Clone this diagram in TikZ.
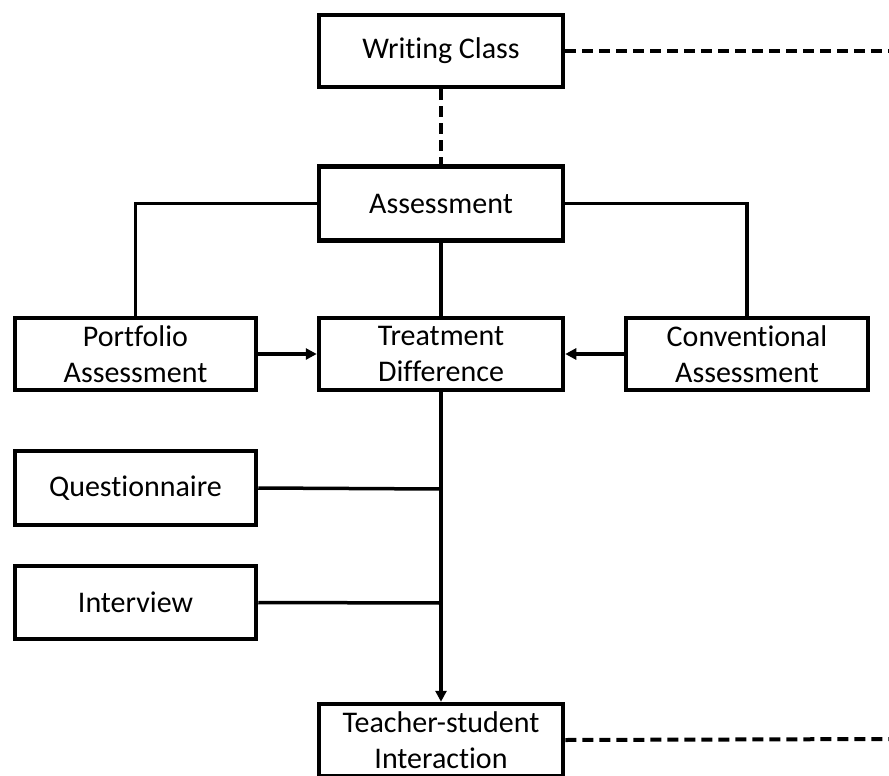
\documentclass[tikz,border=0pt]{standalone}
\usepackage{fontspec}
\setmainfont{Carlito}[Ligatures={NoCommon,NoContextual}]
\usetikzlibrary{arrows.meta}
\begin{document}
\begin{tikzpicture}[x=1pt,y=-1pt,
  box/.style={draw=black,line width=4.5pt,fill=white,minimum width=244pt,minimum height=72pt,
    inner sep=0pt,align=center,font=\fontsize{30}{36}\selectfont},
  sbox/.style={box,minimum width=241pt},
  conn/.style={line width=3.5pt,draw=black},
  dconn/.style={line width=4pt,draw=black,dash pattern=on 11pt off 6pt},
  arr/.style={conn,-{Triangle[length=11pt,width=11pt]}}]
\useasboundingbox (0,0) rectangle (889,776);
\clip (0,0) rectangle (889,776);
\coordinate (wcend) at (889,51);
\coordinate (tsend) at (889,739);
\coordinate (qj) at (441,489);
\coordinate (ij) at (441,603);
\node[box] (wc) at (441,51) {Writing Class};
\node[box,minimum height=74pt] (as) at (441,203.5) {Assessment};
\node[sbox] (pa) at (135.5,354) {Portfolio\\Assessment};
\node[box] (td) at (441,354) {Treatment\\Difference};
\node[box,minimum width=242pt] (ca) at (747,354) {Conventional\\Assessment};
\node[sbox,minimum height=74pt] (qu) at (135.5,488) {Questionnaire};
\node[sbox,minimum height=73pt] (iv) at (135.5,602.5) {Interview};
\node[box] (ts) at (441,740) {Teacher-student\\Interaction};
\draw[dconn] (wc.east) -- (wcend);
\draw[dconn] (wc.south) -- (as.north);
\draw[conn] (as.west) -| (pa.north);
\draw[conn] (as.east) -| (ca.north);
\draw[conn] (as.south) -- (td.north);
\draw[arr] (pa.east) -- (td.west);
\draw[arr] (ca.west) -- (td.east);
\draw[arr] (td.south) -- (ts.north);
\draw[conn] (qu.east) -- (qj);
\draw[conn] (iv.east) -- (ij);
\draw[dconn] (ts.east) -- (tsend);
\end{tikzpicture}
\end{document}
